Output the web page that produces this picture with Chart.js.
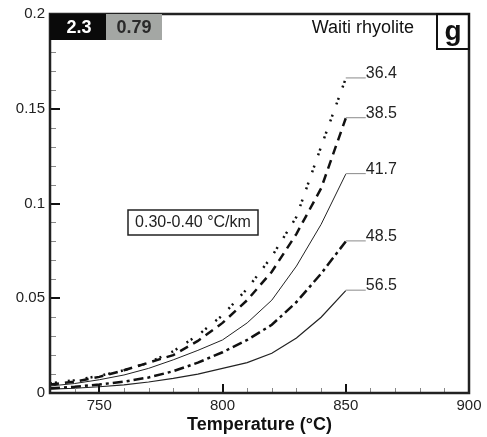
<!DOCTYPE html>
<html>
<head>
<meta charset="utf-8">
<script src="https://cdn.jsdelivr.net/npm/chart.js@4.4.1/dist/chart.umd.min.js"></script>
<style>
  html, body { margin: 0; padding: 0; background: #fff; }
  canvas { display: block; }
</style>
</head>
<body>
<canvas id="chart" width="487" height="437"></canvas>
<script>
// Temperatures (°C) where the curves were read
const temps = [730, 740, 750, 760, 770, 780, 790, 800, 810, 820, 830, 840, 850];

// One curve per label value
const curve364 = [0.005, 0.0068, 0.009, 0.012, 0.016, 0.022, 0.0305, 0.041, 0.055, 0.072, 0.093, 0.130, 0.166];
const curve385 = [0.0045, 0.006, 0.0085, 0.012, 0.016, 0.020, 0.0275, 0.037, 0.049, 0.064, 0.084, 0.108, 0.145];
const curve417 = [0.0037, 0.005, 0.007, 0.0095, 0.013, 0.0175, 0.0225, 0.028, 0.037, 0.049, 0.067, 0.089, 0.1155];
const curve485 = [0.0025, 0.0033, 0.0045, 0.006, 0.0082, 0.0115, 0.016, 0.0215, 0.028, 0.036, 0.048, 0.063, 0.080];
const curve565 = [0.002, 0.0025, 0.0033, 0.0043, 0.0058, 0.0077, 0.010, 0.013, 0.016, 0.021, 0.029, 0.040, 0.054];

const curveLabels = ['36.4', '38.5', '41.7', '48.5', '56.5'];

// Axis ticks
const xTickValues = [750, 800, 850, 900];
const yTickValues = [0, 0.05, 0.1, 0.15, 0.2];

const FONT = '"Liberation Sans", Arial, Helvetica, sans-serif';

function toPoints(values) {
    return values.map((v, i) => ({ x: temps[i], y: v }));
}

// Inward ticks, frame, curve labels and the boxed notes
const overlay = {
    id: 'overlay',
    afterDatasetsDraw(chart) {
        const { ctx, chartArea: a, scales: { x, y } } = chart;
        ctx.save();

        // minor ticks
        ctx.strokeStyle = '#888';
        ctx.lineWidth = 1;
        ctx.beginPath();
        for (let t = 740; t < 900; t += 10) {
            if (t % 50 === 0) continue;
            const px = Math.round(x.getPixelForValue(t)) + 0.5;
            ctx.moveTo(px, a.bottom);
            ctx.lineTo(px, a.bottom - 5);
        }
        for (let k = 1; k < 20; k++) {
            if (k % 5 === 0) continue;
            const py = Math.round(y.getPixelForValue(k / 100)) + 0.5;
            ctx.moveTo(a.left, py);
            ctx.lineTo(a.left + 6, py);
        }
        ctx.stroke();

        // major ticks
        ctx.strokeStyle = '#111';
        ctx.lineWidth = 2;
        ctx.beginPath();
        [750, 800, 850].forEach(t => {
            const px = Math.round(x.getPixelForValue(t));
            ctx.moveTo(px, a.bottom);
            ctx.lineTo(px, a.bottom - 9);
        });
        [0.05, 0.1, 0.15].forEach(v => {
            const py = Math.round(y.getPixelForValue(v));
            ctx.moveTo(a.left, py);
            ctx.lineTo(a.left + 10, py);
        });
        ctx.stroke();

        // frame
        ctx.lineWidth = 2.5;
        ctx.strokeStyle = '#222';
        ctx.strokeRect(a.left, a.top, a.right - a.left, a.bottom - a.top);

        // curve end labels with grey leaders
        ctx.font = '16px ' + FONT;
        ctx.textBaseline = 'bottom';
        ctx.textAlign = 'left';
        chart.data.datasets.forEach((ds, i) => {
            const last = ds.data[ds.data.length - 1];
            const px = x.getPixelForValue(last.x);
            const py = y.getPixelForValue(last.y);
            ctx.strokeStyle = '#8a8a8a';
            ctx.lineWidth = 1;
            ctx.beginPath();
            ctx.moveTo(px, py - 0.5);
            ctx.lineTo(px + 20, py - 0.5);
            ctx.stroke();
            ctx.fillStyle = '#222';
            ctx.fillText(curveLabels[i], px + 20, py + 3);
        });

        // top-left black / grey boxes
        ctx.fillStyle = '#0a0a0a';
        ctx.fillRect(a.left, a.top, 56, 26);
        ctx.fillStyle = '#a4a7a4';
        ctx.fillRect(a.left + 56, a.top, 56, 26);
        ctx.font = 'bold 18px ' + FONT;
        ctx.textAlign = 'center';
        ctx.textBaseline = 'middle';
        ctx.fillStyle = '#fff';
        ctx.fillText('2.3', a.left + 29, a.top + 14);
        ctx.fillStyle = '#2a2a2a';
        ctx.fillText('0.79', a.left + 84, a.top + 14);

        // title and panel letter
        ctx.font = '18px ' + FONT;
        ctx.textAlign = 'right';
        ctx.fillStyle = '#111';
        ctx.fillText('Waiti rhyolite', a.right - 55, a.top + 14);

        ctx.lineWidth = 2;
        ctx.strokeStyle = '#111';
        ctx.strokeRect(a.right - 32, a.top, 32, 35);
        ctx.font = 'bold 28px ' + FONT;
        ctx.textAlign = 'center';
        ctx.textBaseline = 'alphabetic';
        ctx.fillText('g', a.right - 16, a.top + 26);

        // gradient note
        ctx.lineWidth = 1.5;
        ctx.strokeStyle = '#222';
        ctx.strokeRect(a.left + 78, a.top + 196, 130, 25);
        ctx.font = '16px ' + FONT;
        ctx.textBaseline = 'middle';
        ctx.fillStyle = '#222';
        ctx.fillText('0.30-0.40 °C/km', a.left + 143, a.top + 209);

        ctx.restore();
    }
};

const ctx = document.getElementById('chart').getContext('2d');

const chart = new Chart(ctx, {
    type: 'line',
    data: {
        datasets: [
            { data: toPoints(curve364), borderColor: '#111', borderWidth: 2.5, borderDash: [2, 3, 2, 11] },
            { data: toPoints(curve385), borderColor: '#111', borderWidth: 2.5, borderDash: [9, 6] },
            { data: toPoints(curve417), borderColor: '#222', borderWidth: 1 },
            { data: toPoints(curve485), borderColor: '#111', borderWidth: 2.5, borderDash: [10, 4, 3, 4] },
            { data: toPoints(curve565), borderColor: '#222', borderWidth: 1.2 }
        ]
    },
    options: {
        responsive: false,
        animation: false,
        devicePixelRatio: 1,
        layout: { padding: { top: 13, right: 18, left: 0, bottom: 0 } },
        elements: {
            point: { radius: 0 },
            line: { tension: 0, fill: false }
        },
        plugins: {
            legend: { display: false },
            tooltip: { enabled: false }
        },
        scales: {
            x: {
                type: 'linear',
                min: 730,
                max: 900,
                grid: { display: false, drawTicks: false },
                border: { display: false },
                afterBuildTicks: s => { s.ticks = xTickValues.map(v => ({ value: v })); },
                afterFit: s => { s.height = 44; },
                ticks: {
                    color: '#222',
                    font: { family: FONT, size: 15 },
                    padding: 4,
                    maxRotation: 0,
                    autoSkip: false
                },
                title: {
                    display: true,
                    text: 'Temperature (°C)',
                    color: '#111',
                    font: { family: FONT, size: 18, weight: 'bold' },
                    padding: { top: 0, bottom: 1 }
                }
            },
            y: {
                type: 'linear',
                min: 0,
                max: 0.2,
                grid: { display: false, drawTicks: false },
                border: { display: false },
                afterBuildTicks: s => { s.ticks = yTickValues.map(v => ({ value: v })); },
                afterFit: s => { s.width = 50; },
                ticks: {
                    color: '#222',
                    font: { family: FONT, size: 15 },
                    padding: 5,
                    callback: v => String(v)
                }
            }
        }
    },
    plugins: [overlay]
});
</script>
</body>
</html>
